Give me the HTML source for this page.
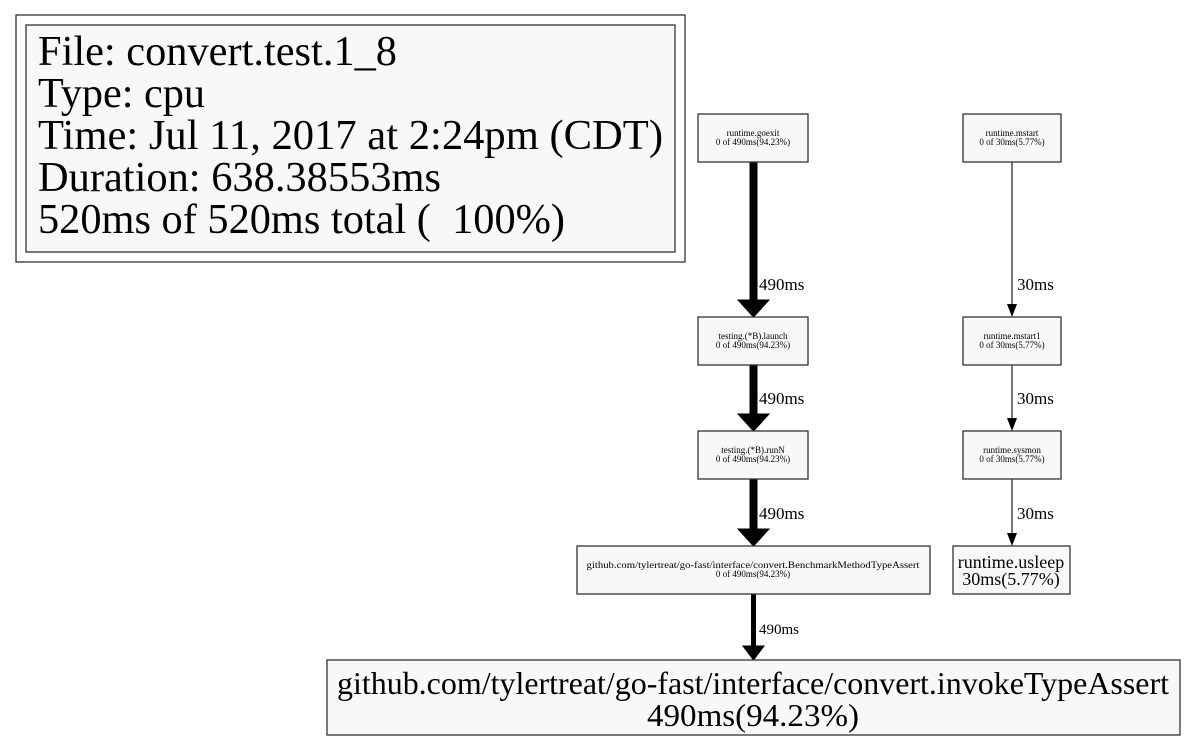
<!DOCTYPE html>
<html><head><meta charset="utf-8"><style>html,body{margin:0;padding:0;background:#fff}svg{display:block}</style></head>
<body>
<svg width="1186" height="741" viewBox="0 0 1186 741" xmlns="http://www.w3.org/2000/svg" font-family="Liberation Serif, serif">
<rect x="16" y="15" width="669" height="247" fill="#fff" stroke="#333" stroke-width="1.3"/>
<rect x="26" y="25" width="649" height="227" fill="#f8f8f8" stroke="#333" stroke-width="1.3"/>
<g font-size="42" fill="#000">
<text x="38" y="65" textLength="359" lengthAdjust="spacingAndGlyphs">File: convert.test.1_8</text>
<text x="38" y="107" textLength="167" lengthAdjust="spacingAndGlyphs">Type: cpu</text>
<text x="38" y="149" textLength="625" lengthAdjust="spacingAndGlyphs">Time: Jul 11, 2017 at 2:24pm (CDT)</text>
<text x="38" y="191" textLength="403" lengthAdjust="spacingAndGlyphs">Duration: 638.38553ms</text>
<text x="38" y="233" textLength="527" lengthAdjust="spacingAndGlyphs" xml:space="preserve">520ms of 520ms total (  100%)</text>
</g>
<g stroke="#000" fill="#000">
<line x1="753.5" y1="162" x2="753.5" y2="302" stroke-width="8"/>
<polygon points="738,300 769,300 753.5,317"/>
<line x1="753.5" y1="365" x2="753.5" y2="416" stroke-width="8"/>
<polygon points="738,414 769,414 753.5,431"/>
<line x1="753.5" y1="479" x2="753.5" y2="531" stroke-width="8"/>
<polygon points="738,529 769,529 753.5,546"/>
<line x1="753.5" y1="594" x2="753.5" y2="648" stroke-width="5"/>
<polygon points="743,646 764,646 753.5,660"/>
<line x1="1012" y1="162" x2="1012" y2="305" stroke-width="1.3" stroke="#333"/>
<polygon points="1007,304 1017,304 1012,317" stroke="none"/>
<line x1="1012" y1="365" x2="1012" y2="419" stroke-width="1.3" stroke="#333"/>
<polygon points="1007,418 1017,418 1012,431" stroke="none"/>
<line x1="1012" y1="479" x2="1012" y2="534" stroke-width="1.3" stroke="#333"/>
<polygon points="1007,533 1017,533 1012,546" stroke="none"/>
</g>
<g font-size="17" fill="#000">
<text x="759" y="290">490ms</text>
<text x="759" y="404">490ms</text>
<text x="759" y="519">490ms</text>
<text x="759" y="634" font-size="15">490ms</text>
<text x="1017" y="290">30ms</text>
<text x="1017" y="404">30ms</text>
<text x="1017" y="519">30ms</text>
</g>
<g fill="#f8f8f8" stroke="#333" stroke-width="1.3">
<rect x="698" y="114" width="110" height="48"/>
<rect x="963" y="114" width="98" height="48"/>
<rect x="698" y="317" width="110" height="48"/>
<rect x="963" y="317" width="98" height="48"/>
<rect x="698" y="431" width="110" height="48"/>
<rect x="963" y="431" width="98" height="48"/>
<rect x="577" y="546" width="353" height="48"/>
<rect x="953" y="546" width="117" height="48"/>
<rect x="327" y="660" width="853" height="75"/>
</g>
<g font-size="9" fill="#000" text-anchor="middle">
<text x="753" y="136">runtime.goexit</text><text x="753" y="145">0 of 490ms(94.23%)</text>
<text x="1012" y="136">runtime.mstart</text><text x="1012" y="145">0 of 30ms(5.77%)</text>
<text x="753" y="339">testing.(*B).launch</text><text x="753" y="348">0 of 490ms(94.23%)</text>
<text x="1012" y="339">runtime.mstart1</text><text x="1012" y="348">0 of 30ms(5.77%)</text>
<text x="753" y="453">testing.(*B).runN</text><text x="753" y="462">0 of 490ms(94.23%)</text>
<text x="1012" y="453">runtime.sysmon</text><text x="1012" y="462">0 of 30ms(5.77%)</text>
<text x="753" y="568" textLength="333" lengthAdjust="spacingAndGlyphs">github.com/tylertreat/go-fast/interface/convert.BenchmarkMethodTypeAssert</text><text x="753" y="577">0 of 490ms(94.23%)</text>
</g>
<g font-size="18" fill="#000" text-anchor="middle">
<text x="1011" y="568">runtime.usleep</text><text x="1011" y="585">30ms(5.77%)</text>
</g>
<g font-size="32" fill="#000" text-anchor="middle">
<text x="753" y="694" textLength="832" lengthAdjust="spacingAndGlyphs">github.com/tylertreat/go-fast/interface/convert.invokeTypeAssert</text>
<text x="753" y="726" textLength="212" lengthAdjust="spacingAndGlyphs">490ms(94.23%)</text>
</g>
</svg>
</body></html>
